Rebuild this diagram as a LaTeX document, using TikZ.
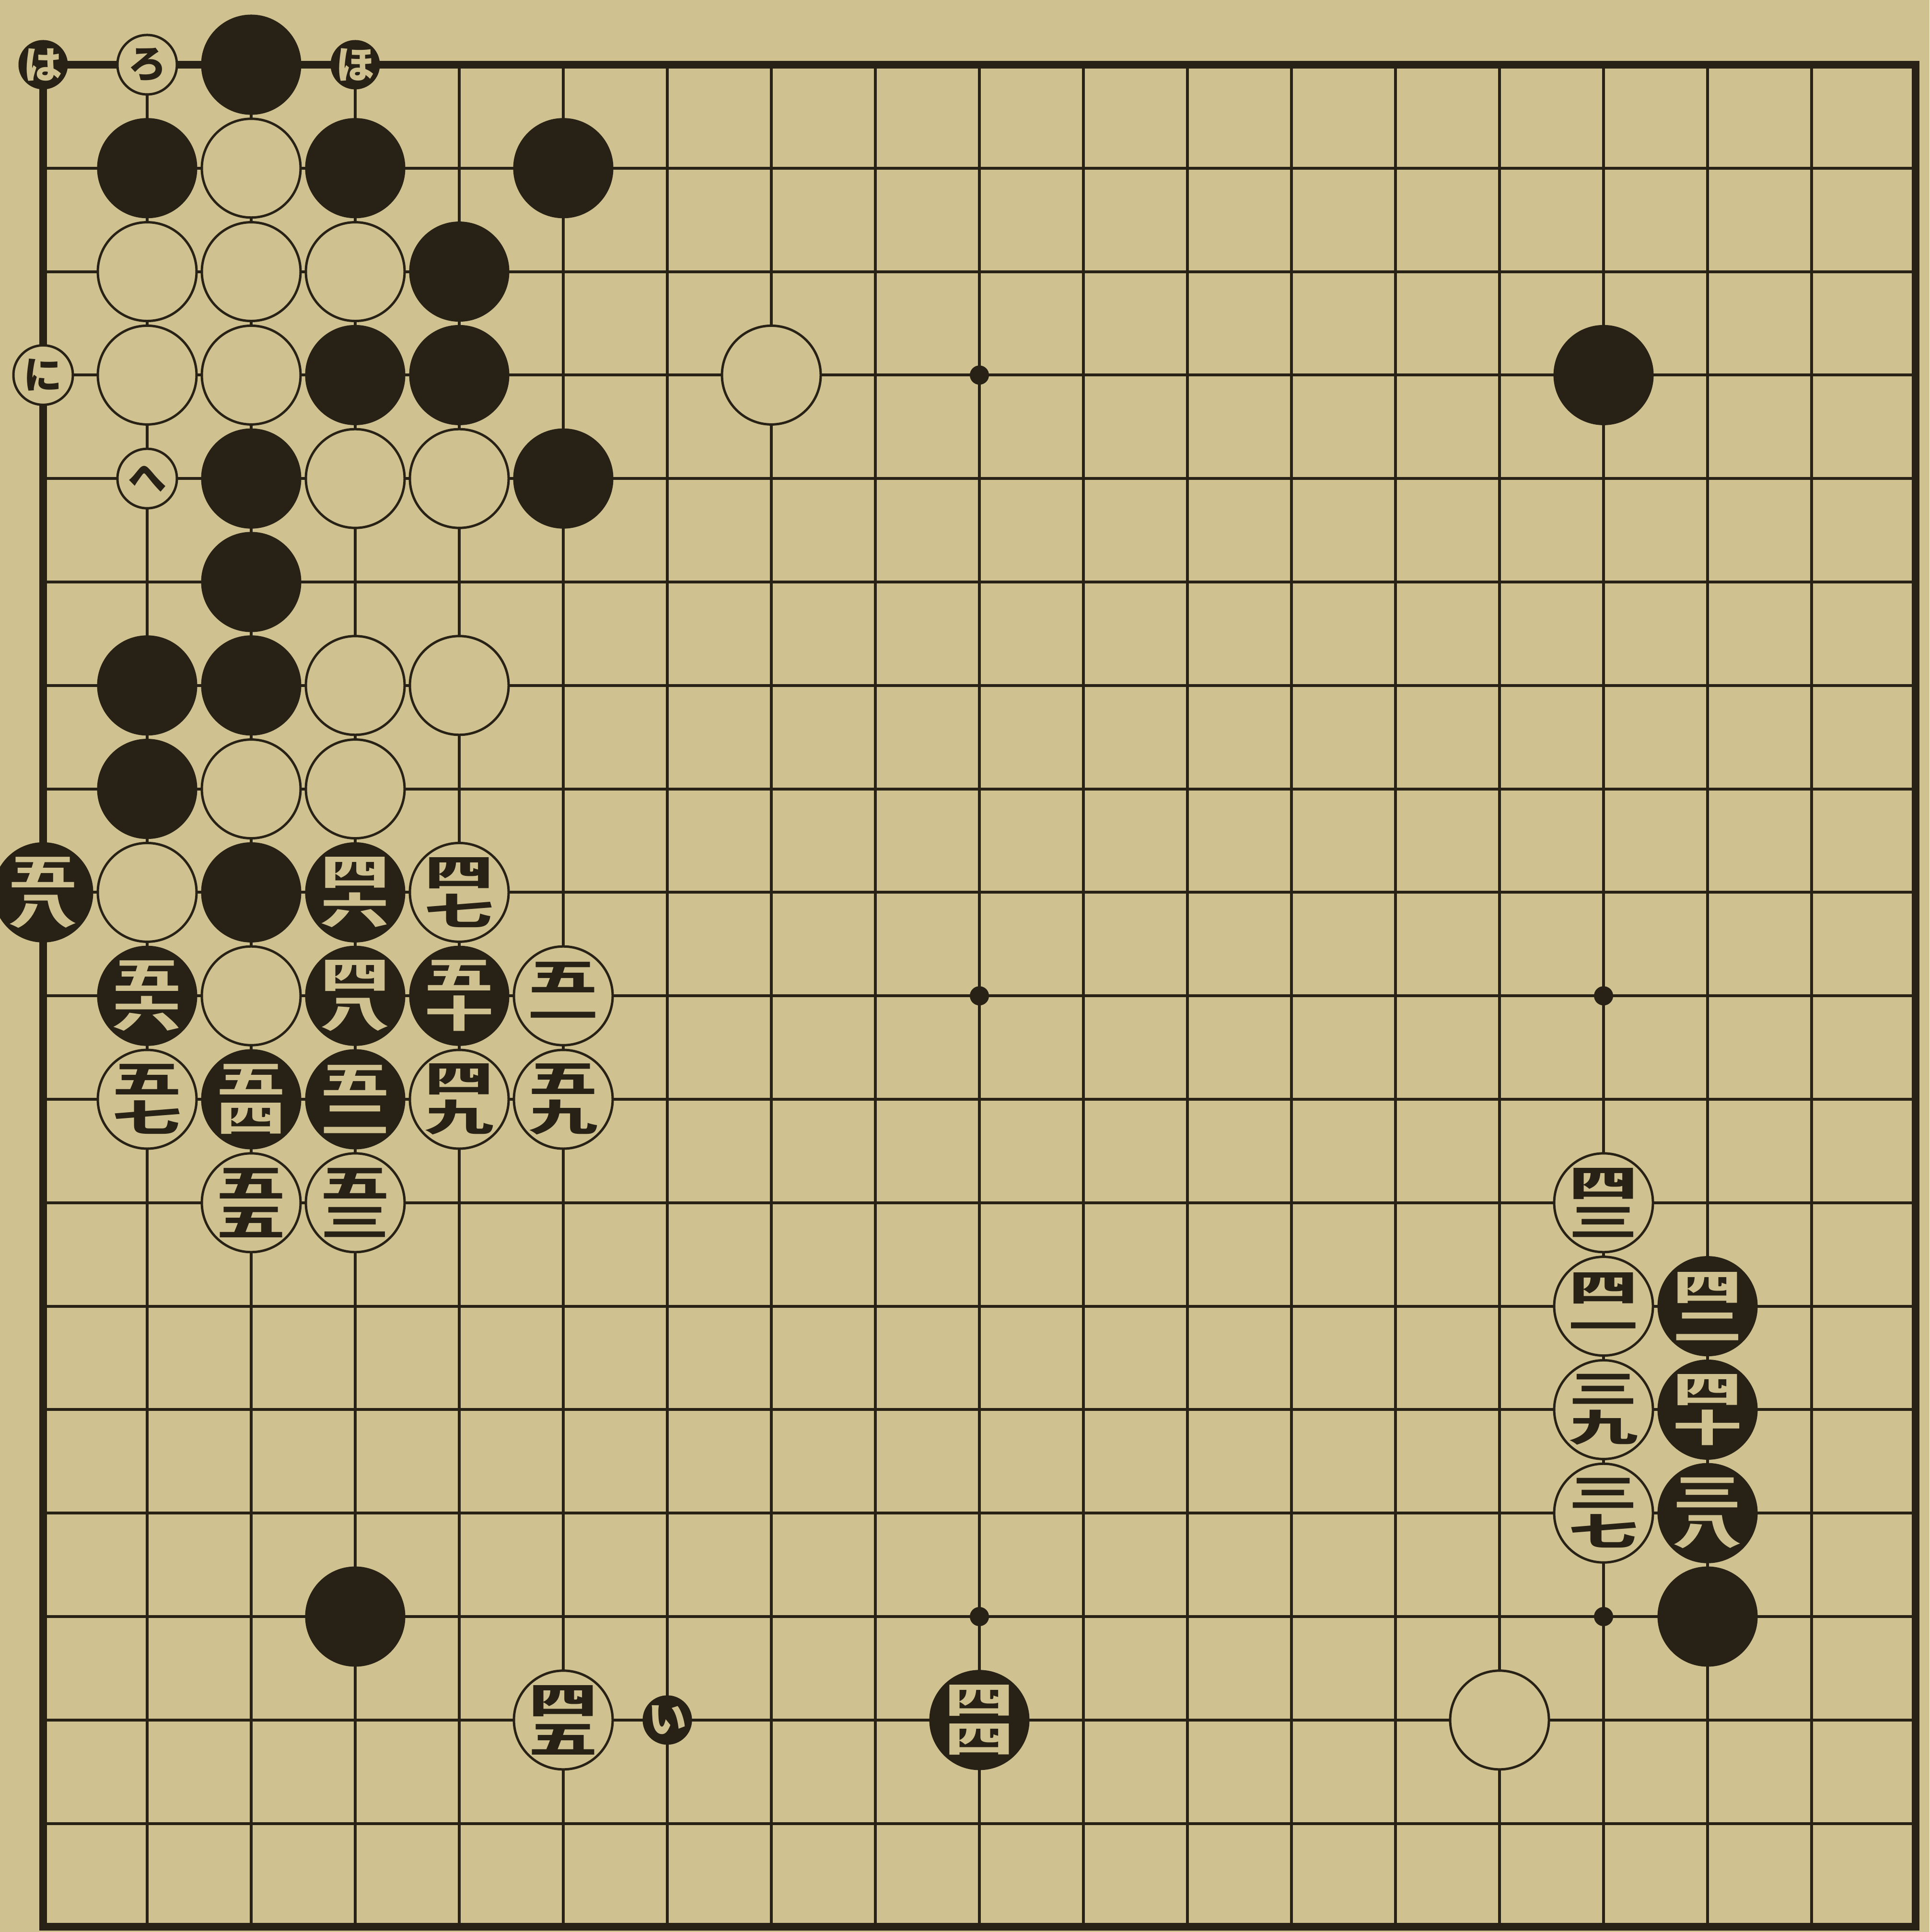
\documentclass[tikz,border=0pt]{standalone}
\usepackage{fontspec}
\usepackage{graphicx}
\newfontfamily\cjk{Noto Sans CJK JP}
\definecolor{paper}{RGB}{207,194,144}
\definecolor{ink}{RGB}{40,33,22}
\newcommand\kk[1]{\scalebox{1.85}[1]{#1}}
\tikzset{
  gridline/.style={ink, line width=0.6pt},
  edgeline/.style={ink, line width=1.6pt},
  starpt/.style={circle, fill=ink, minimum size=4pt, inner sep=0pt},
  bstone/.style={circle, fill=ink, draw=ink, line width=0.3pt, minimum size=20.6pt, inner sep=0pt},
  wstone/.style={circle, fill=paper, draw=ink, line width=0.5pt, minimum size=20.6pt, inner sep=0pt},
  bmark/.style={circle, fill=ink, draw=ink, line width=0.3pt, minimum size=10pt, inner sep=0pt},
  wmark/.style={circle, fill=paper, draw=ink, line width=0.5pt, minimum size=12.4pt, inner sep=0pt},
  numtext/.style={inner sep=0pt, align=center, font=\cjk\bfseries\fontsize{7.8}{8.1}\selectfont},
  kanatext/.style={inner sep=0pt, font=\cjk\bfseries\fontsize{8}{8}\selectfont}
}
\begin{document}
\begin{tikzpicture}
\fill[paper] (0,0) rectangle (402.5pt,-403pt);
\useasboundingbox (0,0) rectangle (402.5pt,-403pt);
\begin{scope}[shift={(9pt,-13.5pt)}, x=21.7pt, y=-21.58pt]
  % grid
  \foreach \i in {1,...,17} {
    \draw[gridline] (\i,0) -- (\i,18);
    \draw[gridline] (0,\i) -- (18,\i);
  }
  \draw[edgeline] (0,0) rectangle (18,18);
  % star points
  \foreach \c in {3,9,15} \foreach \r in {3,9,15}
    \node[starpt] (h\c-\r) at (\c,\r) {};
  % plain black stones
  \foreach \c/\r in {2/0,1/1,3/1,5/1,4/2,3/3,4/3,15/3,2/4,5/4,2/5,1/6,2/6,1/7,2/8,3/15,16/15}
    \node[bstone] (b\c-\r) at (\c,\r) {};
  % plain white stones
  \foreach \c/\r in {2/1,1/2,2/2,3/2,1/3,2/3,7/3,3/4,4/4,3/6,4/6,2/7,3/7,1/8,2/9,14/16}
    \node[wstone] (w\c-\r) at (\c,\r) {};
  % numbered black stones
  \foreach \c/\r/\a/\b in {0/8/五/八,3/8/四/六,1/9/五/六,3/9/四/八,4/9/五/十,2/10/五/四,3/10/五/二,16/12/四/二,16/13/四/十,16/14/三/八,9/16/四/四} {
    \node[bstone] (b\c-\r) at (\c,\r) {};
    \node[numtext, text=paper] (t\c-\r) at (b\c-\r.center) {\kk{\a}\\\kk{\b}};
  }
  % numbered white stones
  \foreach \c/\r/\a/\b in {4/8/四/七,5/9/五/一,1/10/五/七,4/10/四/九,5/10/五/九,2/11/五/五,3/11/五/三,15/11/四/三,15/12/四/一,15/13/三/九,15/14/三/七,5/16/四/五} {
    \node[wstone] (w\c-\r) at (\c,\r) {};
    \node[numtext, text=ink] (t\c-\r) at (w\c-\r.center) {\kk{\a}\\\kk{\b}};
  }
  % lettered marks
  \foreach \c/\r/\k in {0/0/は,3/0/ほ,6/16/い} {
    \node[bmark] (m\c-\r) at (\c,\r) {};
    \node[kanatext, text=paper] (k\c-\r) at (m\c-\r.center) {\k};
  }
  \foreach \c/\r/\k in {1/0/ろ,0/3/に,1/4/へ} {
    \node[wmark] (m\c-\r) at (\c,\r) {};
    \node[kanatext, text=ink] (k\c-\r) at (m\c-\r.center) {\k};
  }
\end{scope}
\end{tikzpicture}
\end{document}
